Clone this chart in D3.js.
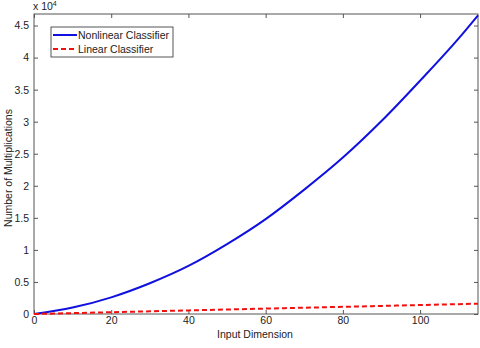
<!DOCTYPE html>
<html>
<head>
<meta charset="utf-8">
<script src="https://cdn.jsdelivr.net/npm/d3@7"></script>
<style>
  body { margin: 0; background: #fff; }
  text { font-family: "Liberation Sans", Arial, sans-serif; fill: #222; }
</style>
</head>
<body>
<div id="chart"></div>
<script>
// input dimension samples
const dims = [0, 10, 20, 30, 40, 50, 60, 70, 80, 90, 100, 110, 115];
// multiplications, in units of 10^4
const nonlinear = [0, 0.10, 0.26, 0.48, 0.75, 1.09, 1.48, 1.94, 2.44, 3.01, 3.64, 4.30, 4.66];
const linear = [0, 0.014, 0.028, 0.042, 0.056, 0.07, 0.084, 0.098, 0.112, 0.126, 0.14, 0.154, 0.161];
const xTicks = [0, 20, 40, 60, 80, 100];
const yTicks = [0, 0.5, 1, 1.5, 2, 2.5, 3, 3.5, 4, 4.5];
const seriesNames = ["Nonlinear Classifier", "Linear Classifier"];

var width = 480, height = 348;
var margin = {top: 14, right: 2, bottom: 34, left: 34};
var w = width - margin.left - margin.right,
    h = height - margin.top - margin.bottom;

var svg = d3.select("#chart").append("svg")
    .attr("width", width).attr("height", height);
var g = svg.append("g")
    .attr("transform", "translate(" + margin.left + "," + margin.top + ")");

var x = d3.scaleLinear().domain([0, 115]).range([0, w]);
var y = d3.scaleLinear().domain([0, 4.68]).range([h, 0]);

// axes with inward ticks (box style)
var axisColor = "#555";
g.append("g").attr("transform", "translate(0," + h + ")")
    .call(d3.axisBottom(x).tickValues(xTicks).tickSizeInner(-4).tickSizeOuter(0).tickPadding(4))
    .call(a => a.select(".domain").remove())
    .call(a => a.selectAll("line").attr("stroke", axisColor))
    .call(a => a.selectAll("text").attr("font-size", 10.5).attr("dy", "0.6em"));
g.append("g").attr("transform", "translate(0,0)")
    .call(d3.axisTop(x).tickValues(xTicks).tickSizeInner(-4).tickSizeOuter(0).tickFormat(""))
    .call(a => a.select(".domain").remove())
    .call(a => a.selectAll("line").attr("stroke", axisColor));
g.append("g")
    .call(d3.axisLeft(y).tickValues(yTicks).tickSizeInner(-4).tickSizeOuter(0).tickPadding(5).tickFormat(d3.format("")))
    .call(a => a.select(".domain").remove())
    .call(a => a.selectAll("line").attr("stroke", axisColor))
    .call(a => a.selectAll("text").attr("font-size", 10.5));
g.append("g").attr("transform", "translate(" + w + ",0)")
    .call(d3.axisRight(y).tickValues(yTicks).tickSizeInner(-4).tickSizeOuter(0).tickFormat(""))
    .call(a => a.select(".domain").remove())
    .call(a => a.selectAll("line").attr("stroke", axisColor));

g.append("rect").attr("width", w).attr("height", h)
    .attr("fill", "none").attr("stroke", axisColor).attr("stroke-width", 1);

// lines
var line = d3.line().x((d, i) => x(dims[i])).y(d => y(d)).curve(d3.curveMonotoneX);
g.append("path").datum(nonlinear).attr("d", line)
    .attr("fill", "none").attr("stroke", "#1010e0").attr("stroke-width", 2);
g.append("path").datum(linear).attr("d", line)
    .attr("fill", "none").attr("stroke", "#f01010").attr("stroke-width", 2)
    .attr("stroke-dasharray", "5,3");

// exponent label
var ex = svg.append("text").attr("x", 33).attr("y", 10).attr("font-size", 10.5);
ex.append("tspan").text("x 10");
ex.append("tspan").attr("font-size", 7).attr("dy", -4).text("4");

// axis labels
svg.append("text").attr("x", margin.left + w / 2 - 1).attr("y", 338)
    .attr("text-anchor", "middle").attr("font-size", 10.5).text("Input Dimension");
svg.append("text").attr("transform", "translate(12," + (margin.top + h / 2 + 4) + ") rotate(-90)")
    .attr("text-anchor", "middle").attr("font-size", 10.5).text("Number of Multiplications");

// legend
var lg = svg.append("g").attr("transform", "translate(51,27)");
lg.append("rect").attr("width", 122).attr("height", 30)
    .attr("fill", "#fff").attr("stroke", axisColor);
var colors = ["#1010e0", "#f01010"], dashes = [null, "5,3"];
seriesNames.forEach((name, i) => {
    var yy = 8 + i * 14;
    lg.append("line").attr("x1", 2).attr("x2", 26).attr("y1", yy).attr("y2", yy)
        .attr("stroke", colors[i]).attr("stroke-width", 2).attr("stroke-dasharray", dashes[i]);
    lg.append("text").attr("x", 27).attr("y", yy + 4).attr("font-size", 10.5).text(name);
});
</script>
</body>
</html>
